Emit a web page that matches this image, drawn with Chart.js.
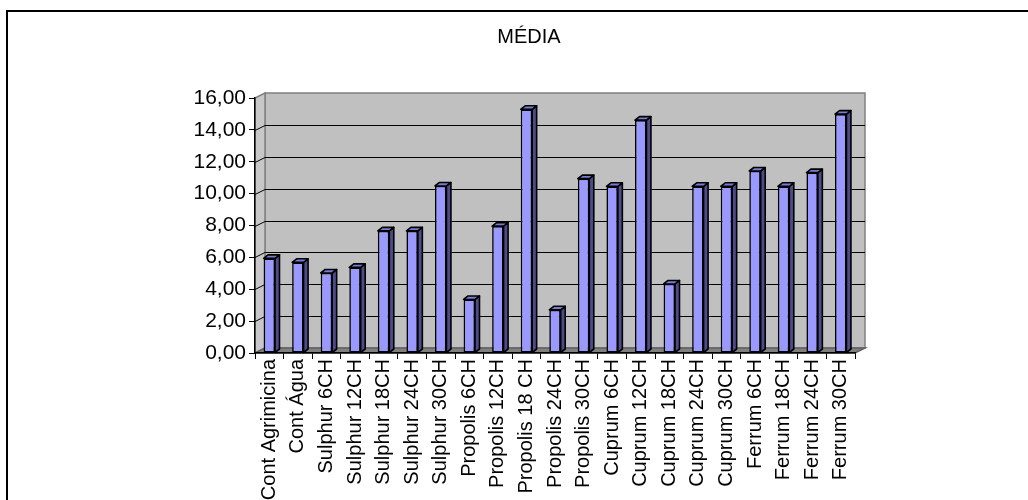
<!DOCTYPE html>
<html>
<head>
<meta charset="utf-8">
<script src="https://cdn.jsdelivr.net/npm/chart.js"></script>
<style>
  html, body { margin: 0; padding: 0; background: #fff; }
  #wrap { width: 1028px; height: 500px; }
</style>
</head>
<body>
<div id="wrap"><canvas id="chart" width="1028" height="500"></canvas></div>
<script>
// DATA
const categories = [
  "Cont Agrimicina", "Cont Água", "Sulphur 6CH", "Sulphur 12CH", "Sulphur 18CH",
  "Sulphur 24CH", "Sulphur 30CH", "Propolis 6CH", "Propolis 12CH", "Propolis 18 CH",
  "Propolis 24CH", "Propolis 30CH", "Cuprum 6CH", "Cuprum 12CH", "Cuprum 18CH",
  "Cuprum 24CH", "Cuprum 30CH", "Ferrum 6CH", "Ferrum 18CH", "Ferrum 24CH", "Ferrum 30CH"
];
const media = [
  5.94, 5.69, 5.02, 5.37, 7.66,
  7.66, 10.48, 3.36, 7.96, 15.29,
  2.71, 10.94, 10.46, 14.61, 4.33,
  10.46, 10.46, 11.42, 10.46, 11.32, 14.99
];
const yTicks = [0, 2, 4, 6, 8, 10, 12, 14, 16];
const chartTitle = "MÉDIA";

// 3D look
const WALL_DX = 10, WALL_DY = -5;
const BAR_DX = 4.5, BAR_DY = -3.5;

Chart.defaults.font.family = "Arial, 'Liberation Sans', sans-serif";
Chart.defaults.color = "#000";

const walls = {
  id: "walls",
  beforeDraw(chart) {
    const c = chart.ctx;
    const a = chart.chartArea;
    const ys = chart.scales.y;
    const L = a.left, R = a.right, T = ys.getPixelForValue(16), B = ys.getPixelForValue(0);
    c.save();
    // back wall
    c.fillStyle = "#c0c0c0";
    c.strokeStyle = "#808080";
    c.lineWidth = 1.5;
    c.fillRect(L + WALL_DX, T + WALL_DY, R - L, B - T);
    c.strokeRect(L + WALL_DX, T + WALL_DY, R - L, B - T);
    // left side wall
    c.beginPath();
    c.moveTo(L, T); c.lineTo(L + WALL_DX, T + WALL_DY);
    c.lineTo(L + WALL_DX, B + WALL_DY); c.lineTo(L, B);
    c.closePath();
    c.fillStyle = "#c8c8c8";
    c.fill(); c.stroke();
    // floor
    c.beginPath();
    c.moveTo(L, B); c.lineTo(R, B);
    c.lineTo(R + WALL_DX, B + WALL_DY); c.lineTo(L + WALL_DX, B + WALL_DY);
    c.closePath();
    c.fillStyle = "#808080";
    c.fill();
    c.strokeStyle = "#606060";
    c.stroke();
    // grid lines on walls
    c.strokeStyle = "#000";
    c.lineWidth = 1;
    yTicks.forEach((v) => {
      if (v === 0 || v === 16) return;
      const y = Math.round(ys.getPixelForValue(v)) + 0.5;
      c.beginPath();
      c.moveTo(L, y);
      c.lineTo(L + WALL_DX, y + WALL_DY);
      c.lineTo(R + WALL_DX, y + WALL_DY);
      c.stroke();
    });
    c.restore();
  },
  afterDatasetsDraw(chart) {
    const c = chart.ctx;
    const meta = chart.getDatasetMeta(0);
    c.save();
    c.strokeStyle = "#000";
    c.lineWidth = 1.6;
    c.lineJoin = "round";
    meta.data.forEach((bar) => {
      const p = bar.getProps(["x", "y", "base", "width"], true);
      const l = p.x - p.width / 2, r = p.x + p.width / 2;
      // side face
      c.beginPath();
      c.moveTo(r, p.y); c.lineTo(r + BAR_DX, p.y + BAR_DY);
      c.lineTo(r + BAR_DX, p.base + BAR_DY); c.lineTo(r, p.base);
      c.closePath();
      c.fillStyle = "#4c4c8a";
      c.fill(); c.stroke();
      // top face
      c.beginPath();
      c.moveTo(l, p.y); c.lineTo(l + BAR_DX, p.y + BAR_DY);
      c.lineTo(r + BAR_DX, p.y + BAR_DY); c.lineTo(r, p.y);
      c.closePath();
      c.fillStyle = "#7a7ad6";
      c.fill(); c.stroke();
    });
    c.restore();
  }
};

const frame = {
  id: "frame",
  afterDraw(chart) {
    const c = chart.ctx;
    c.save();
    c.strokeStyle = "#000";
    c.lineWidth = 2;
    c.beginPath();
    c.moveTo(7, 500);
    c.lineTo(7, 11);
    c.lineTo(1028, 11);
    c.stroke();
    c.restore();
  }
};

new Chart(document.getElementById("chart").getContext("2d"), {
  type: "bar",
  data: {
    labels: categories,
    datasets: [{
      label: chartTitle,
      data: media,
      backgroundColor: "#9999ff",
      borderColor: "#000",
      borderWidth: 1.6,
      borderSkipped: false,
      barPercentage: 0.4,
      categoryPercentage: 1
    }]
  },
  options: {
    responsive: false,
    animation: false,
    layout: { padding: { left: 30, right: 0, top: 0, bottom: 0 } },
    plugins: {
      legend: { display: false },
      tooltip: { enabled: false },
      title: {
        display: true,
        text: chartTitle,
        color: "#000",
        font: { size: 20, weight: "normal" },
        padding: { top: 25, bottom: 49 }
      }
    },
    scales: {
      x: {
        grid: { display: true, drawOnChartArea: false, drawTicks: true, tickLength: 6, color: "#000", offset: true },
        border: { display: true, color: "#000", width: 1.5 },
        ticks: {
          autoSkip: false,
          maxRotation: 90,
          minRotation: 90,
          padding: 0,
          font: { size: 20 },
          color: "#000"
        },
        afterFit(scale) { scale.height = 147; }
      },
      y: {
        min: 0,
        max: 16,
        afterBuildTicks(scale) { scale.ticks = yTicks.map((v) => ({ value: v })); },
        grid: { display: true, drawOnChartArea: false, drawTicks: true, tickLength: 6, color: "#000" },
        border: { display: true, color: "#000", width: 1.5 },
        ticks: {
          padding: 3,
          font: { size: 21 },
          color: "#000",
          callback: (v) => Number(v).toFixed(2).replace(".", ",")
        },
        afterFit(scale) { scale.width = 225; }
      },
      yR: {
        position: "right",
        display: true,
        min: 0,
        max: 16,
        grid: { display: false },
        border: { display: false },
        ticks: { display: false },
        afterFit(scale) { scale.width = 173; }
      }
    }
  },
  plugins: [walls, frame]
});
</script>
</body>
</html>
